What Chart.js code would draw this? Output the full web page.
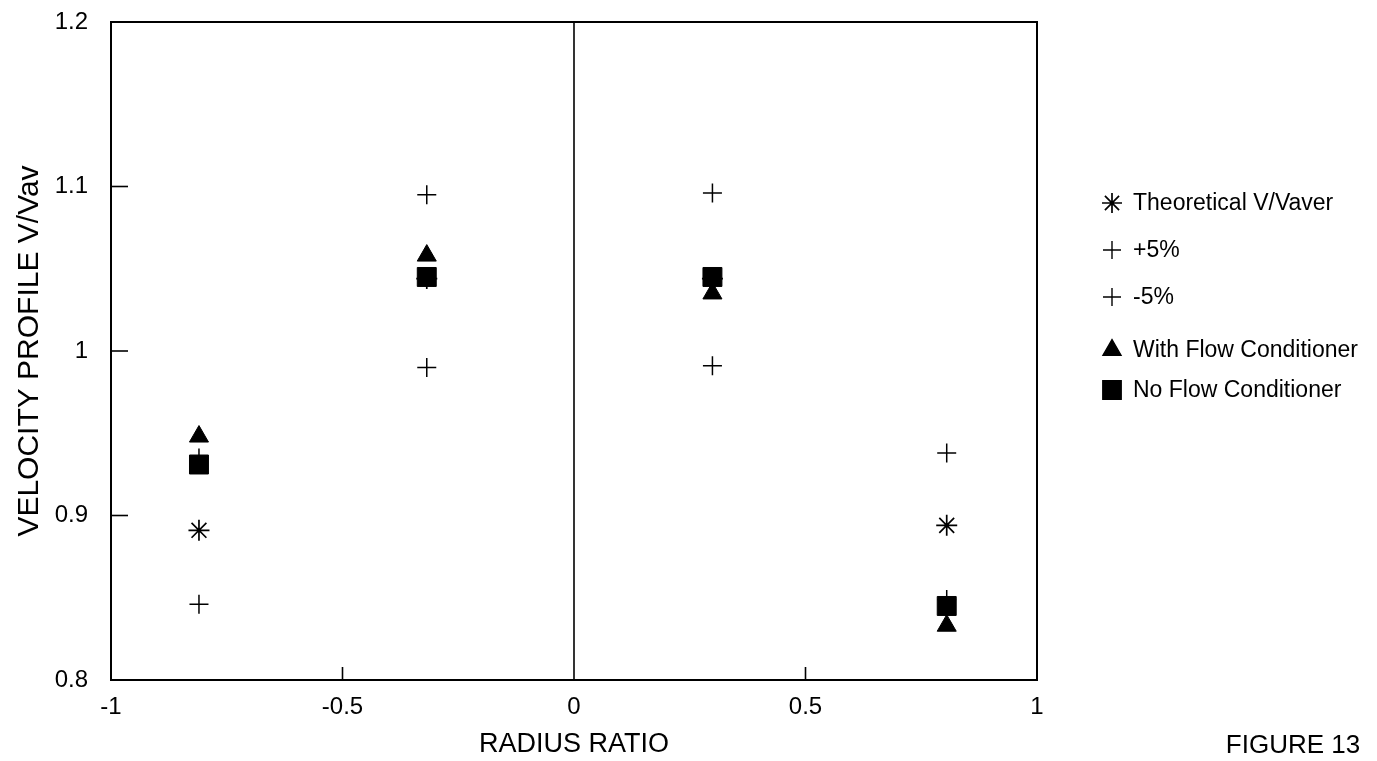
<!DOCTYPE html>
<html>
<head>
<meta charset="utf-8">
<script src="https://cdn.jsdelivr.net/npm/chart.js@4/dist/chart.umd.min.js"></script>
<style>
  html, body { margin: 0; padding: 0; background: #fff; }
  #wrap { width: 1377px; height: 761px; position: relative; }
</style>
</head>
<body>
<div id="wrap"><canvas id="c" width="1377" height="761"></canvas></div>
<script>
// ---- data ----
const radiusRatio = [-0.81, -0.318, 0.299, 0.805];
const theoretical = [0.891, 1.044, 1.044, 0.894];
const plus5 = [0.935, 1.095, 1.096, 0.938];
const minus5 = [0.846, 0.990, 0.991, 0.849];
const withFlowConditioner = [0.948, 1.058, 1.035, 0.833];
const noFlowConditioner = [0.931, 1.045, 1.045, 0.845];
const seriesNames = ['Theoretical V/Vaver', '+5%', '-5%', 'With Flow Conditioner', 'No Flow Conditioner'];
const xTicks = [-1, -0.5, 0, 0.5, 1];
const yTicks = [0.8, 0.9, 1.0, 1.1, 1.2];

const FONT = "'Liberation Sans', Arial, sans-serif";
const toPts = (arr) => radiusRatio.map((x, i) => ({ x: x, y: arr[i] }));

const styles = [
  { pointStyle: 'star', radius: 10.5, borderWidth: 1.7, order: 5 },
  { pointStyle: 'cross', radius: 9.5, borderWidth: 1.5, order: 4 },
  { pointStyle: 'cross', radius: 9.5, borderWidth: 1.5, order: 3 },
  { pointStyle: 'triangle', radius: 11, borderWidth: 1, order: 2 },
  { pointStyle: 'rect', radius: 13.4, borderWidth: 1, order: 1 }
];
const seriesData = [theoretical, plus5, minus5, withFlowConditioner, noFlowConditioner];

const datasets = seriesNames.map((name, i) => ({
  label: name,
  data: toPts(seriesData[i]),
  pointStyle: styles[i].pointStyle,
  pointRadius: styles[i].radius,
  pointHoverRadius: styles[i].radius,
  pointBorderWidth: styles[i].borderWidth,
  pointBackgroundColor: '#000',
  pointBorderColor: '#000',
  showLine: false,
  order: styles[i].order
}));

function drawMarker(ctx, style, radius, x, y) {
  if (Chart.helpers && Chart.helpers.drawPoint) {
    Chart.helpers.drawPoint(ctx, { pointStyle: style, radius: radius, rotation: 0, borderWidth: ctx.lineWidth }, x, y);
  }
}

const decor = {
  id: 'decor',
  afterDraw(chart) {
    const ctx = chart.ctx;
    const a = chart.chartArea;
    const xs = chart.scales.x, ys = chart.scales.y;
    ctx.save();
    ctx.strokeStyle = '#000';
    ctx.lineWidth = 2;
    ctx.strokeRect(a.left, a.top, a.right - a.left, a.bottom - a.top);
    // vertical line at 0
    ctx.lineWidth = 1.6;
    const x0 = xs.getPixelForValue(0);
    ctx.beginPath(); ctx.moveTo(x0, a.top); ctx.lineTo(x0, a.bottom); ctx.stroke();
    // inner ticks
    [0.9, 1.0, 1.1].forEach(v => {
      const py = ys.getPixelForValue(v);
      ctx.beginPath(); ctx.moveTo(a.left, py); ctx.lineTo(a.left + 17, py); ctx.stroke();
    });
    [-0.5, 0.5].forEach(v => {
      const px = xs.getPixelForValue(v);
      ctx.beginPath(); ctx.moveTo(px, a.bottom); ctx.lineTo(px, a.bottom - 13); ctx.stroke();
    });
    // legend
    const legY = [203, 250, 297, 350, 390];
    const legR = [10, 9, 9, 10.4, 13];
    ctx.font = '23px ' + FONT;
    ctx.textBaseline = 'middle';
    ctx.textAlign = 'left';
    seriesNames.forEach((n, i) => {
      ctx.fillStyle = '#000';
      ctx.strokeStyle = '#000';
      ctx.lineWidth = (i === 0) ? 1.7 : 1.4;
      drawMarker(ctx, styles[i].pointStyle, legR[i], 1112, legY[i]);
      ctx.fillStyle = '#000';
      ctx.fillText(n, 1133, legY[i] + 1);
    });
    ctx.font = '26px ' + FONT;
    ctx.textAlign = 'center';
    ctx.fillText('FIGURE 13', 1293, 746);
    ctx.restore();
  }
};

new Chart(document.getElementById('c'), {
  type: 'scatter',
  data: { datasets: datasets },
  options: {
    responsive: false,
    animation: false,
    events: [],
    layout: { padding: { top: 22, right: 340, left: 0, bottom: 0 } },
    plugins: { legend: { display: false }, tooltip: { enabled: false } },
    scales: {
      x: {
        type: 'linear', min: -1, max: 1,
        afterBuildTicks: (s) => { s.ticks = xTicks.map(v => ({ value: v })); },
        afterFit: (s) => { s.height = 81; s.paddingLeft = 0; s.paddingRight = 0; },
        grid: { display: false, drawTicks: false },
        border: { display: false },
        ticks: { color: '#000', padding: 13, font: { family: FONT, size: 24 }, maxRotation: 0,
          callback: (v) => String(v) },
        title: { display: true, text: 'RADIUS RATIO', color: '#000', font: { family: FONT, size: 27 }, padding: { top: 0, bottom: 0 } }
      },
      y: {
        type: 'linear', min: 0.8, max: 1.2,
        afterBuildTicks: (s) => { s.ticks = yTicks.map(v => ({ value: v })); },
        afterFit: (s) => { s.width = 111; s.paddingTop = 0; s.paddingBottom = 0; },
        grid: { display: false, drawTicks: false },
        border: { display: false },
        ticks: { color: '#000', padding: 23, font: { family: FONT, size: 24 },
          callback: (v) => String(Math.round(v * 10) / 10) },
        title: { display: true, text: 'VELOCITY PROFILE V/Vav', color: '#000', font: { family: FONT, size: 30 }, padding: { top: 12, bottom: 0 } }
      }
    }
  },
  plugins: [decor]
});
</script>
</body>
</html>
